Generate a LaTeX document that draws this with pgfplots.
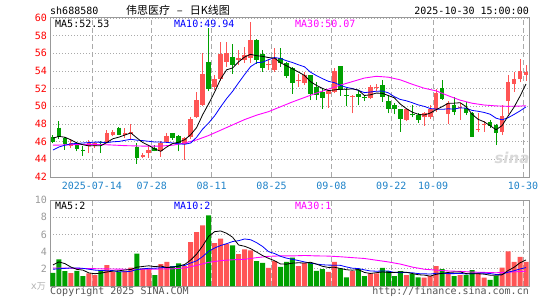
\documentclass[border=0pt]{standalone}
\usepackage{pgfplots}
\pgfplotsset{compat=1.18}
\usepackage{pgfplotstable}
\usepackage{fontspec}
\setmainfont{DejaVu Sans Mono}
\newfontfamily\cjk{Noto Sans CJK SC}
\newfontfamily\sansf{DejaVu Sans}
\definecolor{cred}{HTML}{FF5555}
\definecolor{cgreen}{HTML}{00A000}
\definecolor{gridc}{HTML}{AAAAAA}
\definecolor{framec}{HTML}{999999}
\definecolor{datec}{HTML}{1E82C8}
\definecolor{volc}{HTML}{999999}
\definecolor{mag}{HTML}{FF00FF}
\definecolor{copyc}{HTML}{555555}

\pgfplotstableread{
x o h l c
3 45.55 46.3 45.3 45.9
6 45.55 46.2 44.7 45.85
7 45.5 46.0 45.3 45.8
9 45.9 47.3 45.8 47.0
10 46.7 47.35 46.6 47.1
12 46.8 47.6 46.4 47.0
13 46.9 48.0 46.2 47.1
15 44.3 44.7 44.1 44.45
16 44.7 45.5 44.2 45.1
18 45.0 46.1 44.3 45.8
19 46.0 47.0 45.8 46.65
22 45.7 46.5 43.95 46.45
23 46.5 48.8 46.3 48.6
24 48.8 51.65 48.7 50.75
25 50.15 56.0 50.0 53.65
27 52.15 53.5 51.8 53.1
28 53.1 57.3 52.9 55.95
29 55.06 57.3 54.5 56.0
31 55.2 56.4 54.7 55.5
32 55.3 56.7 54.9 55.8
33 55.5 59.6 54.9 57.5
36 54.65 55.4 54.1 54.8
37 54.1 56.6 53.9 55.5
41 52.85 53.7 52.2 52.95
42 52.6 53.9 52.4 53.6
46 51.45 51.8 49.8 51.7
47 51.6 54.3 51.5 54.0
50 51.1 51.3 49.2 51.2
53 50.9 52.4 50.8 52.15
54 52.1 52.5 51.7 52.2
59 48.45 49.7 48.3 49.65
62 48.75 49.35 47.8 49.3
63 48.75 50.15 48.6 49.7
64 49.6 52.0 49.4 51.55
66 49.15 50.65 48.0 50.35
68 49.85 50.35 48.45 49.95
71 47.35 49.2 47.1 47.45
72 47.9 48.3 47.1 48.0
75 47.1 50.1 46.75 48.9
76 50.6 53.6 49.1 52.8
77 52.55 53.9 51.6 53.05
78 53.05 55.35 52.7 54.0
79 53.6 54.7 52.9 53.9
}\redc

\pgfplotstableread{
x o h l c
0 46.5 46.7 45.8 46.0
1 47.6 48.35 46.3 46.5
2 46.45 46.5 45.1 45.7
4 45.75 46.0 44.9 45.15
5 45.1 45.5 44.4 45.0
8 46.0 46.1 44.7 45.9
11 47.6 47.65 46.7 46.75
14 45.4 45.8 43.5 44.2
17 45.25 45.6 44.9 45.0
20 46.95 47.0 46.2 46.4
21 46.65 46.7 44.9 45.85
26 55.05 58.85 51.7 52.0
30 55.55 57.0 53.7 54.65
34 57.5 57.6 54.8 55.2
35 55.9 56.4 53.9 54.3
38 55.5 56.6 54.5 54.9
39 54.95 55.0 53.2 53.45
40 54.3 54.5 51.4 52.6
43 53.55 53.6 50.7 51.4
44 52.2 52.8 50.7 51.3
45 51.65 52.0 49.7 50.9
48 54.55 54.6 51.2 51.8
49 51.3 52.1 50.0 51.2
51 51.4 51.85 50.1 51.0
52 51.05 51.3 50.6 50.95
55 52.4 53.0 50.5 51.1
56 50.6 51.3 49.2 49.7
57 50.1 50.35 49.1 49.7
58 49.65 49.7 47.1 48.6
60 49.15 50.1 48.75 49.05
61 49.0 49.2 48.1 48.5
65 52.05 53.0 50.7 50.8
67 50.2 51.0 49.0 49.4
69 49.8 50.5 49.0 49.3
70 49.2 49.4 46.5 46.55
73 48.2 48.5 47.6 47.75
74 47.9 47.95 45.6 47.0
}\greenc

\pgfplotstableread{
x m5 m10
0 46.40 45.05
1 46.60 45.40
2 46.50 45.60
3 46.20 45.75
4 45.85 45.80
5 45.65 45.85
6 45.52 45.90
7 45.54 45.95
8 45.54 45.95
9 45.91 45.88
10 46.33 45.99
11 46.51 46.02
12 46.75 46.15
13 46.99 46.27
14 46.43 46.17
15 45.90 46.12
16 45.57 46.04
17 45.17 45.96
18 44.91 45.95
19 45.40 45.92
20 45.79 45.85
21 45.94 45.76
22 46.23 45.70
23 46.79 45.85
24 47.61 46.51
25 49.06 47.43
26 50.29 48.12
27 51.62 48.93
28 53.09 49.94
29 54.14 50.88
30 54.34 51.70
31 55.04 52.67
32 55.58 53.60
33 55.89 54.49
34 55.73 54.94
35 55.66 55.00
36 55.52 55.28
37 55.46 55.52
38 54.94 55.42
39 54.59 55.16
40 54.25 54.96
41 53.88 54.70
42 53.50 54.48
43 52.80 53.87
44 52.37 53.48
45 52.03 53.14
46 51.78 52.83
47 51.86 52.68
48 51.94 52.37
49 51.92 52.15
50 51.98 52.01
51 51.84 51.81
52 51.23 51.55
53 51.30 51.62
54 51.50 51.71
55 51.48 51.73
56 51.22 51.53
57 50.97 51.10
58 50.26 50.78
59 49.75 50.63
60 49.34 50.41
61 49.10 50.16
62 49.02 50.00
63 49.24 49.75
64 49.62 49.69
65 49.97 49.66
66 50.34 49.72
67 50.36 49.69
68 50.41 49.83
69 49.96 49.79
70 49.11 49.54
71 48.53 49.44
72 48.25 49.31
73 47.81 49.11
74 47.35 48.66
75 47.82 48.47
76 48.89 48.71
77 49.90 49.08
78 51.15 49.48
79 52.53 49.94
}\pma

\pgfplotstableread{
x m30
0 45.60
3 45.65
6 45.70
9 45.65
12 45.55
15 45.50
18 45.50
20 45.60
22 45.85
24 46.20
26 46.70
28 47.30
30 47.90
32 48.50
34 49.00
36 49.40
38 49.95
40 50.50
42 51.00
44 51.50
46 51.95
48 52.40
50 52.80
52 53.20
54 53.40
56 53.30
58 53.00
60 52.50
62 52.05
64 51.75
66 51.20
68 50.70
70 50.35
72 50.15
74 50.05
76 50.00
78 50.03
79 50.07
}\pmathirty

\pgfplotstableread{
x v
3 1.5
6 1.46
7 1.27
9 2.42
10 1.65
12 1.73
13 2.15
15 2.04
16 2.04
18 2.54
19 2.8
22 2.3
23 5.1
24 6.27
25 7.04
27 5.0
28 5.5
29 4.9
31 3.7
32 4.27
33 4.15
36 2.1
37 2.88
41 2.3
42 2.7
46 1.65
47 2.8
50 1.73
53 1.46
54 1.46
59 1.27
62 0.96
63 1.15
64 2.3
66 1.54
68 1.27
71 1.54
72 0.96
75 2.15
76 4.04
77 2.8
78 3.38
79 2.8
}\redv

\pgfplotstableread{
x v
0 1.54
1 3.1
2 1.73
4 1.77
5 1.15
8 1.85
11 1.65
14 3.77
17 1.27
20 2.3
21 2.62
26 8.2
30 4.73
34 2.88
35 2.7
38 2.23
39 2.8
40 3.3
43 2.7
44 1.77
45 1.96
48 2.04
49 1.0
51 1.96
52 1.15
55 2.1
56 1.73
57 1.15
58 1.73
60 1.38
61 1.0
65 1.96
67 1.15
69 1.27
70 1.85
73 0.7
74 1.15
}\greenv

\pgfplotstableread{
x m5 m10
0 2.45 1.95
1 2.80 2.00
2 2.60 2.05
3 2.20 2.10
4 1.93 2.10
5 1.85 2.05
6 1.52 1.95
7 1.43 1.85
8 1.50 1.80
9 1.63 1.78
10 1.73 1.79
11 1.77 1.65
12 1.86 1.65
13 1.92 1.71
14 2.19 1.91
15 2.27 2.00
16 2.35 2.06
17 2.25 2.06
18 2.33 2.13
19 2.14 2.16
20 2.19 2.23
21 2.31 2.33
22 2.51 2.38
23 3.02 2.68
24 3.72 2.93
25 4.67 3.43
26 5.78 4.04
27 6.32 4.42
28 6.40 4.71
29 6.13 4.92
30 5.67 5.17
31 4.77 5.27
32 4.62 5.47
33 4.35 5.38
34 3.95 5.04
35 3.54 4.60
36 3.22 3.99
37 2.94 3.78
38 2.56 3.45
39 2.54 3.24
40 2.66 3.10
41 2.70 2.96
42 2.67 2.80
43 2.76 2.66
44 2.55 2.55
45 2.29 2.47
46 2.16 2.43
47 2.18 2.42
48 2.04 2.40
49 1.89 2.22
50 1.84 2.07
51 1.91 2.03
52 1.58 1.88
53 1.46 1.75
54 1.55 1.72
55 1.63 1.74
56 1.58 1.74
57 1.58 1.58
58 1.63 1.55
59 1.60 1.57
60 1.45 1.54
61 1.31 1.44
62 1.27 1.42
63 1.15 1.39
64 1.36 1.48
65 1.47 1.46
66 1.58 1.44
67 1.62 1.44
68 1.64 1.47
69 1.44 1.40
70 1.42 1.45
71 1.42 1.50
72 1.38 1.50
73 1.26 1.45
74 1.24 1.34
75 1.30 1.36
76 1.80 1.61
77 2.17 1.77
78 2.70 1.98
79 3.03 2.14
}\vma

\pgfplotstableread{
x m30
0 2.10
4 2.05
8 2.00
12 1.95
16 1.95
20 2.00
22 2.10
24 2.40
26 2.75
28 2.95
30 3.05
32 3.10
34 3.30
36 3.45
38 3.50
40 3.50
42 3.55
44 3.50
46 3.48
48 3.40
50 3.30
52 3.20
54 3.00
56 2.80
58 2.55
60 2.20
62 1.95
64 1.85
66 1.75
68 1.70
70 1.62
72 1.58
74 1.54
76 1.60
78 1.68
79 1.73
}\vmathirty

\begin{document}
\begin{tikzpicture}[font=\fontsize{10}{12}\selectfont]
\useasboundingbox (0,0) rectangle (545pt,300pt);
\pgfplotsset{
  kbase/.style={
    anchor=south west, scale only axis, width=479pt,
    xmin=-0.5, xmax=79.5,
    axis line style={draw=framec, line width=1pt},
    major tick length=0pt,
    /pgf/number format/assume math mode=true,
    tick label style={font=\fontsize{10}{12}\selectfont},
    xtick={6.5,16.5,26.5,36.5,46.5,56.5,63.5,78.5},
    xmajorgrids, ymajorgrids,
    x grid style={gridc, line width=0.8pt, dash pattern=on 5pt off 3pt},
    y grid style={gridc, line width=0.8pt, dash pattern=on 1pt off 2pt},
  }
}
% price panel
\begin{axis}[kbase,
  at={(50pt,123pt)}, height=159pt,
  ymin=42, ymax=60, ytick={42,44,...,60},
  yticklabel style={text=red, anchor=east, inner sep=0pt, xshift=-3pt},
  xticklabels={2025-07-14,07-28,08-11,08-25,09-08,09-22,10-09,10-30},
  xticklabel style={text=datec, anchor=north, inner sep=0pt, yshift=-5pt},
]
\addplot[cred, line width=1pt, quiver={u=0, v=\thisrow{h}-\thisrow{l}}] table[x=x, y=l] \redc;
\addplot[cred, line width=4.6pt, quiver={u=0, v=\thisrow{c}-\thisrow{o}}] table[x=x, y=o] \redc;
\addplot[cgreen, line width=1pt, quiver={u=0, v=\thisrow{h}-\thisrow{l}}] table[x=x, y=l] \greenc;
\addplot[cgreen, line width=4.6pt, quiver={u=0, v=\thisrow{c}-\thisrow{o}}] table[x=x, y=o] \greenc;
\addplot[mag, line width=0.9pt] table[x=x, y=m30] \pmathirty;
\addplot[blue, line width=0.8pt] table[x=x, y=m10] \pma;
\addplot[black, line width=0.8pt] table[x=x, y=m5] \pma;
\end{axis}
% volume panel
\begin{axis}[kbase,
  at={(50pt,14pt)}, height=86pt,
  ymin=0, ymax=10, ytick={2,4,...,10},
  yticklabel style={text=volc, anchor=east, inner sep=0pt, xshift=-3pt},
  xticklabels={},
]
\addplot[ybar, bar width=5pt, bar shift=0pt, fill=cred, draw=none] table[x=x, y=v] \redv;
\addplot[ybar, bar width=5pt, bar shift=0pt, fill=cgreen, draw=none] table[x=x, y=v] \greenv;
\addplot[mag, line width=0.9pt] table[x=x, y=m30] \vmathirty;
\addplot[blue, line width=0.8pt] table[x=x, y=m10] \vma;
\addplot[black, line width=0.8pt] table[x=x, y=m5] \vma;
\end{axis}
% texts
\node[anchor=west, inner sep=0pt] at (50pt,289pt) {sh688580};
\node[inner sep=0pt] at (178pt,290pt) {\cjk\fontsize{11}{12}\selectfont 伟思医疗\hspace{7pt}–\hspace{7pt}日K线图};
\node[anchor=east, inner sep=0pt] at (529pt,289pt) {2025-10-30 15:00:00};
\node[anchor=west, inner sep=0pt] at (55pt,276pt) {MA5:52.53};
\node[anchor=west, inner sep=0pt, text=blue] at (174pt,276pt) {MA10:49.94};
\node[anchor=west, inner sep=0pt, text=mag] at (295pt,276pt) {MA30:50.07};
\node[anchor=west, inner sep=0pt] at (55pt,94pt) {MA5:2};
\node[anchor=west, inner sep=0pt, text=blue] at (174pt,94pt) {MA10:2};
\node[anchor=west, inner sep=0pt, text=mag] at (295pt,94pt) {MA30:1};
\node[anchor=east, inner sep=0pt, text=gray!60] at (46pt,14pt) {x{\cjk\fontsize{9}{10}\selectfont 万}};
\node[anchor=west, inner sep=0pt, text=copyc] at (50pt,8pt) {Copyright 2025 SINA.COM};
\node[anchor=east, inner sep=0pt, text=copyc] at (529pt,8pt) {http://finance.sina.com.cn};
\node[inner sep=0pt, text=gray!30] at (512pt,142pt) {\sansf\bfseries\itshape\fontsize{15}{16}\selectfont sina};
\end{tikzpicture}
\end{document}
